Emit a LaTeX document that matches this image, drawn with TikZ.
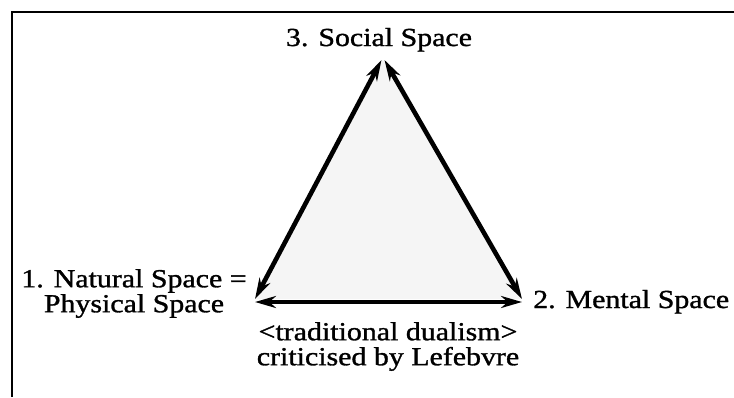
\documentclass[tikz,border=0pt]{standalone}
\usepackage{fontspec}
\setmainfont{Liberation Serif}[FakeStretch=1.15,FakeBold=1.2]
\usetikzlibrary{positioning,arrows.meta}

\begin{document}
\begin{tikzpicture}[
  x=1pt, y=-1pt,
  font=\fontsize{26}{25}\selectfont,
  >={Stealth[length=21pt,width=12pt]},
  spacelbl/.style={inner sep=0pt, align=center},
  dualmap/.style={<->, draw=black, line width=4.6pt},
  framebox/.style={draw=black, line width=1.4pt}
]
  \useasboundingbox (0,0) rectangle (734,397);
  \draw[framebox] (12,397) -- (12,12) -- (734,12);

  % corners of the triad
  \coordinate (social) at (383,60);
  \coordinate (natural) at (255,299);
  \coordinate (mental) at (522,299);
  \fill[gray!8] (social) -- (natural) -- (mental) -- cycle;

  \draw[dualmap] ([xshift=-1.5pt]social) -- (natural);
  \draw[dualmap] ([xshift=1.5pt]social) -- (mental);
  \draw[dualmap] ([yshift=-3pt]natural) -- ([yshift=-3pt]mental);

  \node[spacelbl, anchor=base] (sociallbl) at (379,46) {3. Social Space};
  \node[spacelbl, anchor=north] (naturallbl) at (134,269) {1. Natural Space =\\Physical Space};
  \node[spacelbl, anchor=base west] (mentallbl) at (533,308) {2. Mental Space};
  \node[spacelbl, anchor=north] (dualismlbl) at (388,322) {<traditional dualism>\\criticised by Lefebvre};
\end{tikzpicture}
\end{document}
